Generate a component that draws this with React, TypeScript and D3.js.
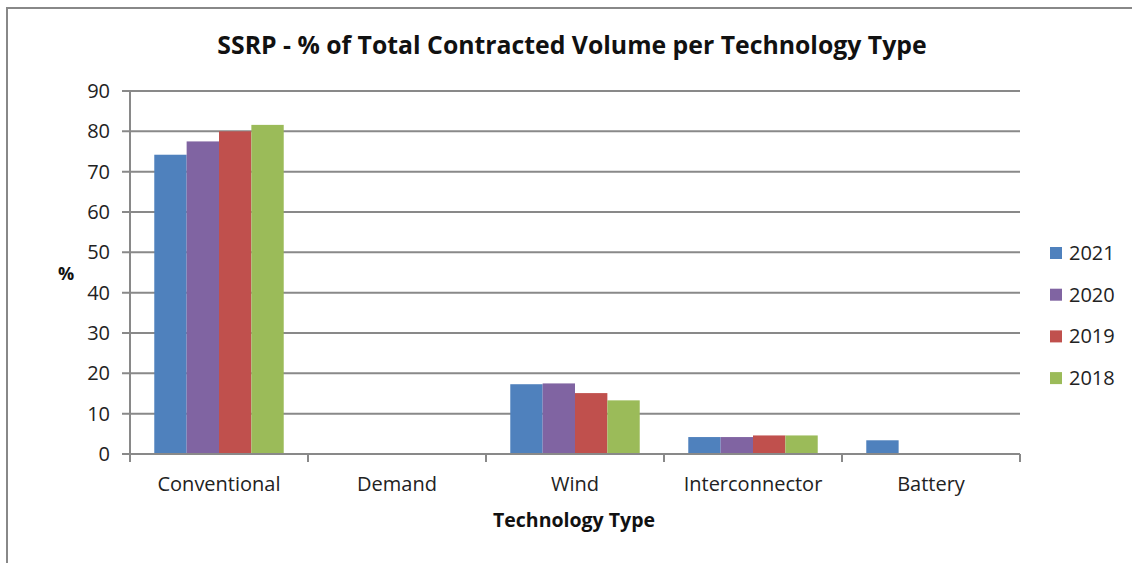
import React, { useRef, useEffect } from 'react'
import * as d3 from 'd3'

const categories = ['Conventional', 'Demand', 'Wind', 'Interconnector', 'Battery']
const years = ['2021', '2020', '2019', '2018']
const v2021 = [74.2, 0, 17.3, 4.2, 3.4]
const v2020 = [77.5, 0, 17.5, 4.2, 0]
const v2019 = [80.0, 0, 15.1, 4.6, 0]
const v2018 = [81.6, 0, 13.3, 4.6, 0]
const yTicks = [0, 10, 20, 30, 40, 50, 60, 70, 80, 90]
const colors = ['#4F81BD', '#8064A2', '#C0504D', '#9BBB59']

const App = () => {
    const ref = useRef<SVGSVGElement>(null)
    useEffect(() => {
        const w = 1132
        const h = 563
        const svg = d3.select(ref.current)
        svg.selectAll('*').remove()
        svg.attr('width', w).attr('height', h)
            .style('display', 'block')
            .style('position', 'absolute')
            .style('left', '0px')
            .style('top', '0px')
            .style('background', 'white')
            .style('font-family', '"Open Sans", sans-serif')

        // chart frame (runs off the right and bottom of the picture)
        svg.append('rect')
            .attr('x', 7).attr('y', 8)
            .attr('width', 1200).attr('height', 600)
            .attr('fill', 'white')
            .attr('stroke', '#888').attr('stroke-width', 2)

        const left = 130, right = 1020, top = 91, bottom = 454
        const series = [v2021, v2020, v2019, v2018]

        const x = d3.scaleBand().domain(categories).range([left, right])
        const x1 = d3.scaleBand().domain(years)
            .range([0, x.bandwidth()])
            .paddingOuter(0.75)
        const y = d3.scaleLinear().domain([0, 90]).range([bottom, top])

        // gridlines
        svg.append('g').selectAll('line')
            .data(yTicks)
            .join('line')
            .attr('x1', left - 8).attr('x2', right)
            .attr('y1', d => y(d)).attr('y2', d => y(d))
            .attr('stroke', '#898989').attr('stroke-width', 2)

        // y labels
        svg.append('g').selectAll('text')
            .data(yTicks)
            .join('text')
            .attr('x', left - 20)
            .attr('y', d => y(d))
            .attr('dy', '0.35em')
            .attr('text-anchor', 'end')
            .attr('font-size', 20)
            .attr('fill', '#222')
            .text(d => d)

        // bars
        const groups = svg.append('g').selectAll('g')
            .data(categories)
            .join('g')
            .attr('transform', d => `translate(${x(d)},0)`)
        groups.selectAll('rect')
            .data((c, ci) => years.map((yr, si) => ({ yr, v: series[si][ci], si })))
            .join('rect')
            .filter(d => d.v > 0)
            .attr('x', d => x1(d.yr)!)
            .attr('width', x1.bandwidth())
            .attr('y', d => y(d.v))
            .attr('height', d => bottom - y(d.v))
            .attr('fill', d => colors[d.si])

        // axes lines
        svg.append('line')
            .attr('x1', left).attr('x2', left).attr('y1', top).attr('y2', bottom)
            .attr('stroke', '#898989').attr('stroke-width', 2)
        svg.append('line')
            .attr('x1', left).attr('x2', right).attr('y1', bottom).attr('y2', bottom)
            .attr('stroke', '#898989').attr('stroke-width', 2)
        const bounds = categories.map(c => x(c)!).concat([right])
        svg.append('g').selectAll('line')
            .data(bounds)
            .join('line')
            .attr('x1', d => d).attr('x2', d => d)
            .attr('y1', bottom).attr('y2', bottom + 8)
            .attr('stroke', '#898989').attr('stroke-width', 2)

        // x labels
        svg.append('g').selectAll('text')
            .data(categories)
            .join('text')
            .attr('x', d => x(d)! + x.bandwidth() / 2)
            .attr('y', bottom + 37)
            .attr('text-anchor', 'middle')
            .attr('font-size', 20)
            .attr('fill', '#222')
            .text(d => d)

        // titles
        svg.append('text')
            .attr('x', 572).attr('y', 54)
            .attr('text-anchor', 'middle')
            .attr('font-size', 24.8).attr('font-weight', 'bold')
            .attr('fill', '#111')
            .text('SSRP - % of Total Contracted Volume per Technology Type')
        svg.append('text')
            .attr('x', 574).attr('y', 527)
            .attr('text-anchor', 'middle')
            .attr('font-size', 19.5).attr('font-weight', 'bold')
            .attr('fill', '#111')
            .text('Technology Type')
        svg.append('text')
            .attr('x', 66).attr('y', 280)
            .attr('text-anchor', 'middle')
            .attr('font-size', 18).attr('font-weight', 'bold')
            .attr('fill', '#111')
            .text('%')

        // legend
        const lg = svg.append('g').selectAll('g')
            .data(years)
            .join('g')
            .attr('transform', (d, i) => `translate(1050,${253 + i * 41.7})`)
        lg.append('rect')
            .attr('x', 0).attr('y', -6)
            .attr('width', 12).attr('height', 12)
            .attr('fill', (d, i) => colors[i])
        lg.append('text')
            .attr('x', 19).attr('y', 0)
            .attr('dy', '0.35em')
            .attr('font-size', 20)
            .attr('fill', '#222')
            .text(d => d)
    }, [])
    return (
        <svg ref={ref}></svg>
    )
}

export default App
